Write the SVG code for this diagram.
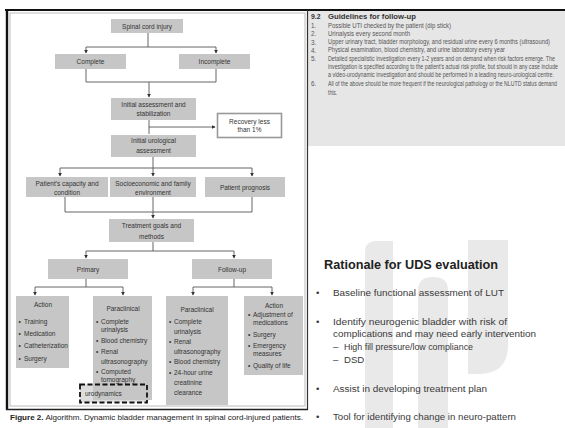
<svg xmlns="http://www.w3.org/2000/svg" width="565" height="428" viewBox="0 0 565 428">
<style>
.box{fill:#c6c6c6}
.t{font-family:"Liberation Sans",Arial,sans-serif;font-size:6.5px;fill:#333}
.c{text-anchor:middle}
.ln{stroke:#555;stroke-width:0.9;fill:none}
.g{font-family:"Liberation Sans",Arial,sans-serif;font-size:6.3px;fill:#555}
.gh{font-family:"Liberation Sans",Arial,sans-serif;font-size:6.8px;font-weight:bold;fill:#333}
.s{font-family:"Liberation Sans",Arial,sans-serif;font-size:9.6px;fill:#3a3a3a}
.wm{fill:#e9e9e9}
</style>
<defs>
<marker id="ah" viewBox="0 0 6 6" refX="5" refY="3" markerWidth="4" markerHeight="4" orient="auto">
<path d="M0,0 L6,3 L0,6 Z" fill="#333"/>
</marker>
</defs>
<rect width="565" height="428" fill="#fff"/>

<!-- Slide watermark -->
<g id="watermark">
<path class="wm" d="M365,428 L365,252 Q365,241 377,241 L393,241 L393,428 Z"/>
<path class="wm" d="M418,428 L418,290 Q418,277 433,277 Q448,277 448,290 L448,428 Z"/>
<path class="wm" d="M468,240 L508,240 L508,345 Q508,372 482,374 L468,374 Z"/>
</g>

<!-- Guidelines panel -->
<g id="guidelines">
<rect x="307" y="10" width="258" height="136" fill="#e6e6e6"/>
<text x="311" y="19" class="gh">9.2</text>
<text x="311" y="28" class="g">1.</text>
<text x="311" y="36" class="g">2.</text>
<text x="311" y="44.5" class="g">3.</text>
<text x="311" y="52.5" class="g">4.</text>
<text x="311" y="61" class="g">5.</text>
<text x="311" y="86" class="g">6.</text>
<g transform="translate(328,0) scale(0.8,1)">
<text x="0" y="19" class="gh" textLength="110" lengthAdjust="spacingAndGlyphs">Guidelines for follow-up</text>
<text x="0" y="28" class="g" textLength="153.75" lengthAdjust="spacingAndGlyphs">Possible UTI checked by the patient (dip stick)</text>
<text x="0" y="36" class="g" textLength="102.5" lengthAdjust="spacingAndGlyphs">Urinalysis every second month</text>
<text x="0" y="44.5" class="g" textLength="277.5" lengthAdjust="spacingAndGlyphs">Upper urinary tract, bladder morphology, and residual urine every 6 months (ultrasound)</text>
<text x="0" y="52.5" class="g" textLength="221.25" lengthAdjust="spacingAndGlyphs">Physical examination, blood chemistry, and urine laboratory every year</text>
<text x="0" y="61" class="g" textLength="283.75" lengthAdjust="spacingAndGlyphs">Detailed specialistic investigation every 1-2 years and on demand when risk factors emerge. The</text>
<text x="0" y="69.5" class="g" textLength="287.5" lengthAdjust="spacingAndGlyphs">investigation is specified according to the patient's actual risk profile, but should in any case include</text>
<text x="0" y="77.5" class="g" textLength="282.5" lengthAdjust="spacingAndGlyphs">a video-urodynamic investigation and should be performed in a leading neuro-urological centre.</text>
<text x="0" y="86" class="g" textLength="286.25" lengthAdjust="spacingAndGlyphs">All of the above should be more frequent if the neurological pathology or the NLUTD status demand</text>
<text x="0" y="95" class="g">this.</text>
</g>
</g>

<!-- Figure frame -->
<g id="frame">
<rect x="10" y="13" width="295" height="393" fill="none" stroke="#bbb" stroke-width="1"/>
<line x1="5" y1="10" x2="565" y2="10" stroke="#111" stroke-width="2.2"/>
<line x1="7" y1="9" x2="7" y2="410" stroke="#111" stroke-width="2.4"/>
<line x1="307.5" y1="10" x2="307.5" y2="410" stroke="#333" stroke-width="1.2"/>
<line x1="6" y1="409.5" x2="308" y2="409.5" stroke="#222" stroke-width="1.3"/>
</g>

<!-- Connectors -->
<g id="connectors">
<path class="ln" d="M148,33 V47 M86,47 H216"/>
<path class="ln" d="M86,47 V53" marker-end="url(#ah)"/>
<path class="ln" d="M216,47 V53" marker-end="url(#ah)"/>
<path class="ln" d="M86,69 V82 H216 V69"/>
<path class="ln" d="M149,82 V97" marker-end="url(#ah)"/>
<path class="ln" d="M149,120 V134"/>
<path class="ln" d="M149,127 H215" marker-end="url(#ah)"/>
<path class="ln" d="M153,157 V168 M60,168 H252"/>
<path class="ln" d="M60,168 V176" marker-end="url(#ah)"/>
<path class="ln" d="M153,168 V176" marker-end="url(#ah)"/>
<path class="ln" d="M252,168 V176" marker-end="url(#ah)"/>
<path class="ln" d="M65,197 V212 H252 V197"/>
<path class="ln" d="M153,197 V218" marker-end="url(#ah)"/>
<path class="ln" d="M153,242 V251 M86,251 H234"/>
<path class="ln" d="M86,251 V258" marker-end="url(#ah)"/>
<path class="ln" d="M234,251 V258" marker-end="url(#ah)"/>
<path class="ln" d="M86,279 V287 M35,287 H123"/>
<path class="ln" d="M35,287 V295" marker-end="url(#ah)"/>
<path class="ln" d="M123,287 V295" marker-end="url(#ah)"/>
<path class="ln" d="M234,279 V287 M193,287 H272"/>
<path class="ln" d="M193,287 V295" marker-end="url(#ah)"/>
<path class="ln" d="M272,287 V295" marker-end="url(#ah)"/>
</g>

<!-- Nodes -->
<g id="n-spinal"><rect class="box" x="111" y="19" width="72" height="14"/><text class="t c" x="147" y="28.5">Spinal cord injury</text></g>
<g id="n-complete"><rect class="box" x="55" y="54" width="71" height="15"/><text class="t c" x="90.5" y="64">Complete</text></g>
<g id="n-incomplete"><rect class="box" x="179" y="54" width="71" height="15"/><text class="t c" x="214.5" y="64">Incomplete</text></g>
<g id="n-initial"><rect class="box" x="111" y="98" width="85" height="22"/><text class="t c" x="153.5" y="106.5">Initial assessment and</text><text class="t c" x="153.5" y="115.5">stabilization</text></g>
<g id="n-recovery"><rect x="217.5" y="113.5" width="64" height="24" fill="#fff" stroke="#999" stroke-width="1.6"/><text class="t c" x="249.5" y="123.5">Recovery less</text><text class="t c" x="249.5" y="132">than 1%</text></g>
<g id="n-urological"><rect class="box" x="111" y="135" width="85" height="22"/><text class="t c" x="153.5" y="142.5">Initial urological</text><text class="t c" x="153.5" y="153">assessment</text></g>
<g id="n-capacity"><rect class="box" x="26" y="177" width="82" height="20"/><text class="t c" x="67" y="185.5">Patient's capacity and</text><text class="t c" x="67" y="195">condition</text></g>
<g id="n-socio"><rect class="box" x="110" y="177" width="86" height="20"/><text class="t c" x="153" y="185.5">Socioeconomic and family</text><text class="t c" x="153" y="195">environment</text></g>
<g id="n-prognosis"><rect class="box" x="205" y="177" width="80" height="20"/><text class="t c" x="245" y="189.5">Patient prognosis</text></g>
<g id="n-treatment"><rect class="box" x="109" y="219" width="85" height="23"/><text class="t c" x="151.5" y="228">Treatment goals and</text><text class="t c" x="151.5" y="238.5">methods</text></g>
<g id="n-primary"><rect class="box" x="48" y="259" width="80" height="20"/><text class="t c" x="88" y="271.5">Primary</text></g>
<g id="n-followup"><rect class="box" x="192" y="259" width="80" height="20"/><text class="t c" x="232" y="271.5">Follow-up</text></g>
<g id="n-action1"><rect class="box" x="16" y="296" width="53" height="72"/>
<text class="t c" x="43" y="307">Action</text>
<text class="t" x="18.5" y="324">•</text><text class="t" x="24" y="324">Training</text>
<text class="t" x="18.5" y="336">•</text><text class="t" x="24" y="336">Medication</text>
<text class="t" x="18.5" y="348">•</text><text class="t" x="24" y="348" textLength="44" lengthAdjust="spacingAndGlyphs">Catheterization</text>
<text class="t" x="18.5" y="361">•</text><text class="t" x="24" y="361">Surgery</text></g>
<g id="n-para1"><rect class="box" x="93" y="296" width="59" height="104"/>
<text class="t c" x="123" y="311">Paraclinical</text>
<text class="t" x="96" y="324">•</text><text class="t" x="101" y="324">Complete</text>
<text class="t" x="101" y="332">urinalysis</text>
<text class="t" x="96" y="343">•</text><text class="t" x="101" y="343">Blood chemistry</text>
<text class="t" x="96" y="354">•</text><text class="t" x="101" y="354">Renal</text>
<text class="t" x="101" y="364">ultrasonography</text>
<text class="t" x="96" y="374">•</text><text class="t" x="101" y="374">Computed</text>
<text class="t" x="101" y="382">tomography</text>
<rect x="80" y="384.5" width="67" height="18" fill="#c6c6c6" fill-opacity="0.6" stroke="#111" stroke-width="1.8" stroke-dasharray="5,2.5"/>
<text class="t" x="85" y="395.5">urodynamics</text></g>
<g id="n-para2"><rect class="box" x="166" y="296" width="62" height="109"/>
<text class="t c" x="197" y="312">Paraclinical</text>
<text class="t" x="169" y="324">•</text><text class="t" x="174" y="324">Complete</text>
<text class="t" x="174" y="334">urinalysis</text>
<text class="t" x="169" y="344">•</text><text class="t" x="174" y="344">Renal</text>
<text class="t" x="174" y="354">ultrasonography</text>
<text class="t" x="169" y="364">•</text><text class="t" x="174" y="364">Blood chemistry</text>
<text class="t" x="169" y="375">•</text><text class="t" x="174" y="375">24-hour urine</text>
<text class="t" x="174" y="385">creatinine</text>
<text class="t" x="174" y="395">clearance</text></g>
<g id="n-action2"><rect class="box" x="244" y="296" width="59" height="79"/>
<text class="t c" x="274" y="308">Action</text>
<text class="t" x="248" y="317">•</text><text class="t" x="253" y="317">Adjustment of</text>
<text class="t" x="253" y="325">medications</text>
<text class="t" x="248" y="337">•</text><text class="t" x="253" y="337">Surgery</text>
<text class="t" x="248" y="348">•</text><text class="t" x="253" y="348">Emergency</text>
<text class="t" x="253" y="356">measures</text>
<text class="t" x="248" y="368">•</text><text class="t" x="253" y="368">Quality of life</text></g>

<!-- Caption -->
<text x="10" y="420" style="font-family:'Liberation Sans',Arial,sans-serif;font-size:7.4px;fill:#222" textLength="293" lengthAdjust="spacingAndGlyphs"><tspan font-weight="bold">Figure 2.</tspan> Algorithm. Dynamic bladder management in spinal cord-injured patients.</text>

<!-- Slide text -->
<g id="slide">
<text x="324" y="269" style="font-family:'Liberation Sans',Arial,sans-serif;font-size:12.7px;font-weight:bold;fill:#222" textLength="174" lengthAdjust="spacingAndGlyphs">Rationale for UDS evaluation</text>
<text class="s" x="316" y="296">•</text><text class="s" x="333" y="296" textLength="171" lengthAdjust="spacingAndGlyphs">Baseline functional assessment of LUT</text>
<text class="s" x="316" y="324.5">•</text><text class="s" x="333" y="324.5" textLength="174" lengthAdjust="spacingAndGlyphs">Identify neurogenic bladder with risk of</text>
<text class="s" x="333" y="337" textLength="203" lengthAdjust="spacingAndGlyphs">complications and may need early intervention</text>
<text class="s" x="333" y="350">–</text><text class="s" x="344" y="350" textLength="129" lengthAdjust="spacingAndGlyphs">High fill pressure/low compliance</text>
<text class="s" x="333" y="362.5">–</text><text class="s" x="344" y="362.5">DSD</text>
<text class="s" x="316" y="391.5">•</text><text class="s" x="333" y="391.5" textLength="154" lengthAdjust="spacingAndGlyphs">Assist in developing treatment plan</text>
<text class="s" x="316" y="420">•</text><text class="s" x="333" y="420" textLength="183" lengthAdjust="spacingAndGlyphs">Tool for identifying change in neuro-pattern</text>
</g>
</svg>
